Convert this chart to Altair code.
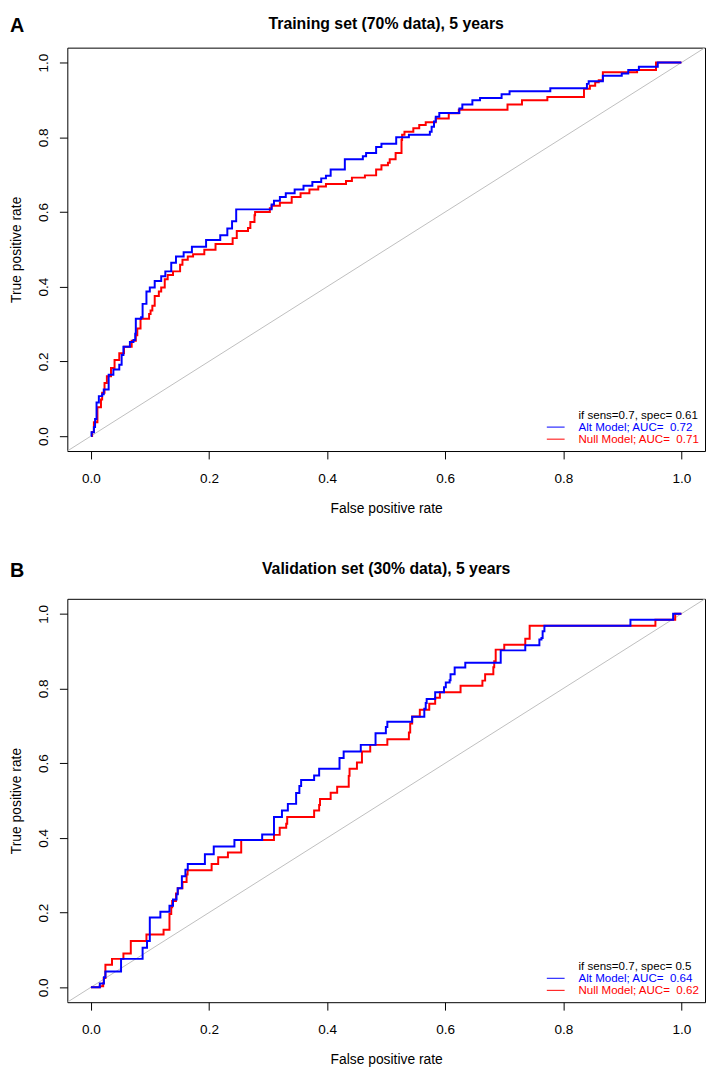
import altair as alt
import pandas as pd

# ---------------- data ----------------
tick_values = [0.0, 0.2, 0.4, 0.6, 0.8, 1.0]

titles = ["Training set (70% data), 5 years", "Validation set (30% data), 5 years"]
letters = ["A", "B"]

legend_a = ["if sens=0.7, spec= 0.61", "Alt Model; AUC=\u00a0 0.72", "Null Model; AUC=\u00a0 0.71"]
legend_b = ["if sens=0.7, spec= 0.5", "Alt Model; AUC=\u00a0 0.64", "Null Model; AUC=\u00a0 0.62"]

# Panel A, Alt model (blue): step starts (false positive rate, true positive rate)
a_alt_fpr = [0, 0.001, 0.005, 0.007, 0.0095, 0.0134, 0.019, 0.0217, 0.030, 0.038, 0.048, 0.052,
             0.055, 0.066, 0.072, 0.075, 0.076, 0.085, 0.0875, 0.094, 0.0997, 0.108, 0.119, 0.126,
             0.136, 0.144, 0.157, 0.171, 0.195, 0.219, 0.231, 0.239, 0.246, 0.306, 0.31, 0.32,
             0.33, 0.345, 0.36, 0.375, 0.39, 0.398, 0.406, 0.430, 0.4605, 0.466, 0.483, 0.492,
             0.517, 0.5385, 0.574, 0.577, 0.581, 0.584, 0.590, 0.624, 0.629, 0.646, 0.659, 0.6955,
             0.709, 0.778, 0.840, 0.843, 0.867, 0.899, 0.910, 0.928, 0.960, 1.0]
a_alt_tpr = [0, 0.01, 0.024, 0.046, 0.09, 0.107, 0.112, 0.125, 0.164, 0.178, 0.191, 0.217,
             0.239, 0.252, 0.257, 0.274, 0.314, 0.318, 0.354, 0.387, 0.398, 0.415, 0.428, 0.441,
             0.464, 0.481, 0.492, 0.507, 0.525, 0.538, 0.556, 0.575, 0.607, 0.62, 0.63, 0.64,
             0.65, 0.66, 0.67, 0.68, 0.69, 0.697, 0.714, 0.741, 0.749, 0.758, 0.774, 0.783,
             0.800, 0.807, 0.815, 0.828, 0.842, 0.855, 0.865, 0.877, 0.888, 0.899, 0.905, 0.915,
             0.923, 0.931, 0.943, 0.950, 0.965, 0.971, 0.980, 0.989, 1.0, 1.0]

# Panel A, Null model (red)
a_null_fpr = [0, 0.002, 0.005, 0.011, 0.017, 0.019, 0.023, 0.027, 0.034, 0.040, 0.048, 0.056,
              0.069, 0.076, 0.0785, 0.084, 0.0985, 0.101, 0.104, 0.108, 0.115, 0.119, 0.125, 0.130,
              0.139, 0.151, 0.155, 0.164, 0.173, 0.192, 0.211, 0.240, 0.247, 0.266, 0.270, 0.277,
              0.278, 0.303, 0.306, 0.32, 0.34, 0.355, 0.37, 0.385, 0.398, 0.432, 0.442, 0.464,
              0.483, 0.492, 0.503, 0.506, 0.516, 0.526, 0.527, 0.531, 0.546, 0.556, 0.567, 0.584,
              0.606, 0.623, 0.7055, 0.730, 0.773, 0.835, 0.845, 0.854, 0.860, 0.867, 0.925, 0.957, 1.0]
a_null_tpr = [0, 0.011, 0.037, 0.077, 0.098, 0.116, 0.142, 0.160, 0.182, 0.204, 0.222, 0.239,
              0.255, 0.270, 0.288, 0.314, 0.327, 0.336, 0.349, 0.375, 0.387, 0.398, 0.420, 0.431,
              0.441, 0.459, 0.472, 0.481, 0.487, 0.499, 0.514, 0.530, 0.549, 0.557, 0.573, 0.591,
              0.600, 0.610, 0.617, 0.625, 0.64, 0.65, 0.66, 0.668, 0.675, 0.683, 0.692, 0.698,
              0.714, 0.725, 0.732, 0.741, 0.758, 0.793, 0.807, 0.815, 0.824, 0.833, 0.840, 0.850,
              0.864, 0.874, 0.888, 0.899, 0.908, 0.930, 0.938, 0.947, 0.953, 0.974, 0.980, 1.0, 1.0]

# Panel B, Alt model (blue)
b_alt_fpr = [0, 0.015, 0.022, 0.0245, 0.051, 0.0875, 0.095, 0.0997, 0.1176, 0.133, 0.139, 0.145,
             0.147, 0.154, 0.160, 0.164, 0.193, 0.208, 0.243, 0.290, 0.310, 0.3235, 0.3335, 0.3475,
             0.353, 0.356, 0.378, 0.3865, 0.421, 0.428, 0.457, 0.482, 0.4995, 0.502, 0.544, 0.5646,
             0.567, 0.5686, 0.583, 0.598, 0.601, 0.6075, 0.609, 0.616, 0.634, 0.694, 0.7356, 0.7595,
             0.763, 0.765, 0.768, 0.9137, 0.986, 1.0]
b_alt_tpr = [0, 0.010, 0.027, 0.042, 0.076, 0.106, 0.124, 0.187, 0.202, 0.218, 0.235, 0.249,
             0.265, 0.297, 0.315, 0.330, 0.356, 0.377, 0.394, 0.409, 0.456, 0.473, 0.491, 0.520,
             0.539, 0.555, 0.567, 0.585, 0.614, 0.631, 0.649, 0.680, 0.697, 0.711, 0.724, 0.746,
             0.761, 0.772, 0.790, 0.803, 0.816, 0.822, 0.838, 0.856, 0.869, 0.902, 0.916, 0.931,
             0.935, 0.953, 0.968, 0.984, 1.0, 1.0]

# Panel B, Null model (red)
b_null_fpr = [0, 0.015, 0.0207, 0.0217, 0.0245, 0.0357, 0.055, 0.0675, 0.094, 0.123, 0.133, 0.136,
              0.1376, 0.144, 0.147, 0.155, 0.162, 0.1637, 0.2044, 0.2155, 0.232, 0.2545, 0.310,
              0.3197, 0.3307, 0.3324, 0.378, 0.3865, 0.388, 0.406, 0.417, 0.4366, 0.438, 0.4505,
              0.459, 0.473, 0.502, 0.5385, 0.5407, 0.544, 0.557, 0.573, 0.583, 0.591, 0.626, 0.663,
              0.6676, 0.6815, 0.683, 0.6855, 0.700, 0.7356, 0.743, 0.956, 0.9895, 1.0]
b_null_tpr = [0, 0.003, 0.011, 0.025, 0.060, 0.076, 0.0905, 0.124, 0.141, 0.154, 0.196, 0.214,
              0.231, 0.251, 0.265, 0.282, 0.302, 0.313, 0.330, 0.348, 0.361, 0.394, 0.408,
              0.427, 0.438, 0.456, 0.473, 0.488, 0.504, 0.521, 0.537, 0.566, 0.585, 0.602,
              0.631, 0.649, 0.664, 0.682, 0.706, 0.725, 0.743, 0.759, 0.775, 0.790, 0.807, 0.821,
              0.838, 0.857, 0.873, 0.904, 0.917, 0.933, 0.968, 0.984, 1.0, 1.0]

# ---------------- styling ----------------
FONT = "Liberation Sans"
W, H = 645, 408
LO, HI = -0.04, 1.04
BLUE, RED, GREY = "#0000FF", "#FF0000", "#BEBEBE"


def panel(alt_x, alt_y, null_x, null_y, title, letter, legend, head_y):
    xs = alt.Scale(domain=[LO, HI], nice=False, zero=False)
    ys = alt.Scale(domain=[LO, HI], nice=False, zero=False)
    xaxis = alt.Axis(values=tick_values, format=".1f", title="False positive rate",
                     tickSize=8, labelPadding=13, domain=False, grid=False,
                     titleX=W / 2, titleY=51, titleAlign="center", titleBaseline="top")
    yaxis = alt.Axis(values=tick_values, format=".1f", title="True positive rate",
                     labelAngle=270, labelAlign="center", labelBaseline="alphabetic",
                     tickSize=8, labelPadding=12, domain=False, grid=False,
                     titleAngle=270, titleX=-51, titleY=H / 2, titleAlign="center",
                     titleBaseline="middle")
    X = alt.X("x:Q", scale=xs, axis=xaxis)
    Y = alt.Y("y:Q", scale=ys, axis=yaxis)

    diag = alt.Chart(pd.DataFrame({"x": [LO], "y": [LO], "x2": [HI], "y2": [HI]})).mark_rule(
        color=GREY, strokeWidth=1, clip=True).encode(x=X, y=Y, x2="x2:Q", y2="y2:Q")

    def curve(xv, yv, color):
        df = pd.DataFrame({"x": xv, "y": yv, "i": list(range(len(xv)))})
        return alt.Chart(df).mark_line(interpolate="step-after", color=color, strokeWidth=2,
                                       clip=True).encode(x=X, y=Y, order=alt.Order("i:Q"))

    layers = [diag, curve(null_x, null_y, RED), curve(alt_x, alt_y, BLUE)]

    # legend block (bottom right, R style)
    colors = ["black", BLUE, RED]
    text_x, line_x1, line_x2 = 517, 485, 503
    rows_y = [371.6, 383.8, 396.0]
    for k in range(3):
        layers.append(alt.Chart(pd.DataFrame({"t": [legend[k]]})).mark_text(
            align="left", baseline="middle", font=FONT, fontSize=11.7, color=colors[k]
        ).encode(x=alt.value(text_x), y=alt.value(rows_y[k]), text="t:N"))
    for k in (1, 2):
        layers.append(alt.Chart(pd.DataFrame({"t": [legend[k]]})).mark_rule(
            color=colors[k], strokeWidth=1
        ).encode(x=alt.value(line_x1), x2=alt.value(line_x2), y=alt.value(rows_y[k])))

    # panel letter and main title
    layers.append(alt.Chart(pd.DataFrame({"t": [letter]})).mark_text(
        align="left", baseline="top", font=FONT, fontSize=20, fontWeight="bold",
        color="black").encode(x=alt.value(-58), y=alt.value(head_y), text="t:N"))
    layers.append(alt.Chart(pd.DataFrame({"t": [title]})).mark_text(
        align="center", baseline="top", font=FONT, fontSize=16, fontWeight="bold",
        color="black").encode(x=alt.value(W / 2), y=alt.value(head_y), text="t:N"))

    return alt.layer(*layers).properties(width=W, height=H)


pa = panel(a_alt_fpr, a_alt_tpr, a_null_fpr, a_null_tpr, titles[0], letters[0], legend_a, -32)
pb = panel(b_alt_fpr, b_alt_tpr, b_null_fpr, b_null_tpr, titles[1], letters[1], legend_b, -38)

chart = alt.vconcat(pa, pb, spacing=44.5).properties(
    padding={"top": 1, "left": 1, "right": 0, "bottom": 0},
    background="white",
).configure_view(stroke="black", strokeWidth=1).configure_axis(
    labelFont=FONT, titleFont=FONT, labelFontSize=13.7, titleFontSize=14,
    labelColor="black", titleColor="black", tickColor="black", tickWidth=1,
    titleFontWeight="normal",
)

chart.save("out.html", embed_options={"renderer": "svg", "actions": False})
